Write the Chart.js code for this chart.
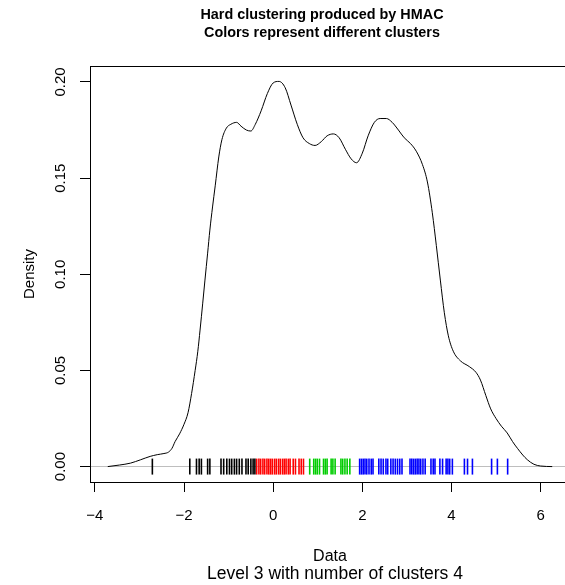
<!DOCTYPE html>
<html>
<head>
  <title>Hard clustering produced by HMAC</title>
  <script src="https://cdn.jsdelivr.net/npm/chart.js"></script>
  <style>
    html, body { margin: 0; padding: 0; overflow: hidden; background: #fff; }
    #chart { display: block; }
  </style>
</head>
<body>
  <canvas id="chart" width="580" height="585"></canvas>
  <script>
    // kernel density of the data
    const densX = [-3.71, -3.45, -3.2, -2.98, -2.76, -2.6, -2.45, -2.35, -2.27, -2.2, -2.1, -2.0, -1.91, -1.83,
      -1.75, -1.69, -1.64, -1.58, -1.53, -1.47, -1.42, -1.36, -1.3, -1.22, -1.15, -1.05, -0.95, -0.82, -0.72,
      -0.6, -0.5, -0.4, -0.27, -0.13, 0.0, 0.13, 0.27, 0.4, 0.54, 0.67, 0.81, 0.94, 1.08, 1.21, 1.35, 1.48,
      1.62, 1.75, 1.87, 2.0, 2.13, 2.27, 2.4, 2.54, 2.67, 2.81, 2.94, 3.08, 3.21, 3.35, 3.46, 3.57, 3.66,
      3.75, 3.84, 3.93, 4.04, 4.2, 4.4, 4.55, 4.65, 4.77, 4.88, 5.0, 5.12, 5.25, 5.37, 5.48, 5.6, 5.7, 5.85,
      6.0, 6.26];
    const densY = [0.0, 0.0008, 0.0018, 0.0035, 0.0053, 0.0062, 0.0068, 0.0075, 0.0095, 0.013, 0.017, 0.022,
      0.028, 0.038, 0.05, 0.06, 0.071, 0.085, 0.097, 0.111, 0.123, 0.135, 0.146, 0.161, 0.17, 0.176, 0.178,
      0.179, 0.177, 0.175, 0.1745, 0.178, 0.185, 0.194, 0.1995, 0.2003, 0.197, 0.188, 0.178, 0.171, 0.168,
      0.167, 0.169, 0.172, 0.173, 0.171, 0.165, 0.16, 0.158, 0.163, 0.172, 0.179, 0.181, 0.181, 0.179, 0.175,
      0.171, 0.168, 0.164, 0.157, 0.148, 0.132, 0.115, 0.097, 0.08, 0.068, 0.06, 0.055, 0.052, 0.049, 0.045,
      0.037, 0.03, 0.025, 0.021, 0.0175, 0.013, 0.0095, 0.006, 0.0036, 0.0012, 0.0003, 0.0];

    // rug: observations by cluster
    const cluster1 = [-2.71, -1.87, -1.72, -1.66, -1.61, -1.47, -1.42, -1.17, -1.11, -1.04, -0.98, -0.93,
      -0.87, -0.82, -0.76, -0.70, -0.61, -0.56, -0.50, -0.45, -0.41];
    const cluster2 = [-0.37, -0.32, -0.28, -0.23, -0.19, -0.14, -0.10, -0.06, -0.02, 0.03, 0.07, 0.12, 0.16,
      0.21, 0.25, 0.29, 0.34, 0.38, 0.45, 0.50, 0.58, 0.63, 0.68];
    const cluster3 = [0.82, 0.91, 0.95, 0.99, 1.04, 1.13, 1.17, 1.21, 1.30, 1.34, 1.39, 1.52, 1.56, 1.61,
      1.66, 1.72];
    const cluster4 = [1.94, 1.98, 2.02, 2.06, 2.10, 2.15, 2.20, 2.24, 2.37, 2.42, 2.47, 2.53, 2.57, 2.64,
      2.69, 2.74, 2.79, 2.84, 2.89, 3.07, 3.11, 3.15, 3.19, 3.23, 3.27, 3.31, 3.36, 3.41, 3.54, 3.59, 3.63,
      3.74, 3.80, 3.88, 3.92, 3.96, 4.02, 4.29, 4.36, 4.47, 4.90, 5.03, 5.26];
    const clusterColors = ["#000000", "#ff0000", "#00cd00", "#0000ff"];

    const xTicks = [-4, -2, 0, 2, 4, 6];
    const yTicks = [0, 0.05, 0.10, 0.15, 0.20];
    const titleLines = ["Hard clustering produced by HMAC", "Colors represent different clusters"];
    const xLabel = "Data";
    const subLabel = "Level 3 with number of clusters 4";
    const yLabel = "Density";

    const FONT = "'Liberation Sans', Arial, Helvetica, sans-serif";
    Chart.defaults.font.family = FONT;
    Chart.defaults.color = "#000";

    // R pads the data range by 4% on each side
    const xMin = Math.min(...densX), xMax = Math.max(...densX);
    const padX = 0.04 * (xMax - xMin);
    const yMax = Math.max(...densY);
    const padY = 0.04 * yMax;

    const rPlot = {
      id: "rPlot",
      afterDraw(chart) {
        const { ctx, chartArea: a, scales: { y } } = chart;
        ctx.save();
        ctx.strokeStyle = "#000";
        ctx.lineWidth = 1;
        ctx.strokeRect(Math.round(a.left) + 0.5, Math.round(a.top) + 0.5,
          Math.round(a.right - a.left), Math.round(a.bottom - a.top));

        // y labels are drawn parallel to the axis
        ctx.fillStyle = "#000";
        ctx.textAlign = "center";
        ctx.textBaseline = "middle";
        ctx.font = "15px " + FONT;
        y.ticks.forEach(t => {
          ctx.save();
          ctx.translate(61, y.getPixelForValue(t.value));
          ctx.rotate(-Math.PI / 2);
          ctx.fillText(t.value.toFixed(2), 0, 0);
          ctx.restore();
        });

        ctx.font = "bold 14.4px " + FONT;
        titleLines.forEach((s, i) => ctx.fillText(s, 322, 15 + i * 18));

        ctx.font = "17.5px " + FONT;
        ctx.fillText(subLabel, 335, 574);
        ctx.restore();
      }
    };

    const rugSets = [cluster1, cluster2, cluster3, cluster4].map((c, i) => ({
      data: c.map(v => ({ x: v, y: 0 })),
      showLine: false,
      pointStyle: "line",
      pointRotation: 90,
      pointRadius: 8,
      pointBorderWidth: 1.6,
      pointBorderColor: clusterColors[i],
      pointBackgroundColor: clusterColors[i]
    }));

    new Chart(document.getElementById("chart"), {
      type: "scatter",
      data: {
        datasets: [{
          data: densX.map((v, i) => ({ x: v, y: densY[i] })),
          showLine: true,
          borderColor: "#000",
          borderWidth: 1,
          pointRadius: 0,
          cubicInterpolationMode: "monotone"
        }, ...rugSets]
      },
      options: {
        responsive: false,
        animation: false,
        events: [],
        layout: { padding: { top: 66, right: 10, left: 0, bottom: 0 } },
        plugins: { legend: { display: false }, tooltip: { enabled: false } },
        scales: {
          x: {
            type: "linear",
            min: xMin - padX,
            max: xMax + padX,
            afterBuildTicks: s => { s.ticks = xTicks.map(v => ({ value: v })); },
            afterFit: s => { s.height = 103; },
            grid: { drawOnChartArea: false, drawTicks: true, tickLength: 10, tickColor: "#000", tickWidth: 1 },
            border: { display: false },
            ticks: {
              padding: 14.5,
              font: { size: 15 },
              color: "#000",
              maxRotation: 0,
              autoSkip: false,
              callback: v => String(v).replace("-", "\u2212")
            },
            title: { display: true, text: xLabel, font: { size: 16 }, color: "#000", padding: { top: 0, bottom: 19 } }
          },
          y: {
            type: "linear",
            min: -padY,
            max: yMax + padY,
            afterBuildTicks: s => { s.ticks = yTicks.map(v => ({ value: v })); },
            afterFit: s => { s.width = 90; },
            grid: {
              color: c => (c.tick && c.tick.value === 0 ? "#bebebe" : "rgba(0,0,0,0)"),
              tickColor: "#000",
              tickLength: 10,
              drawTicks: true
            },
            border: { display: false },
            ticks: { display: false },
            title: { display: true, text: yLabel, font: { size: 15 }, color: "#000", padding: { top: 21 } }
          }
        }
      },
      plugins: [rPlot]
    });
  </script>
</body>
</html>
